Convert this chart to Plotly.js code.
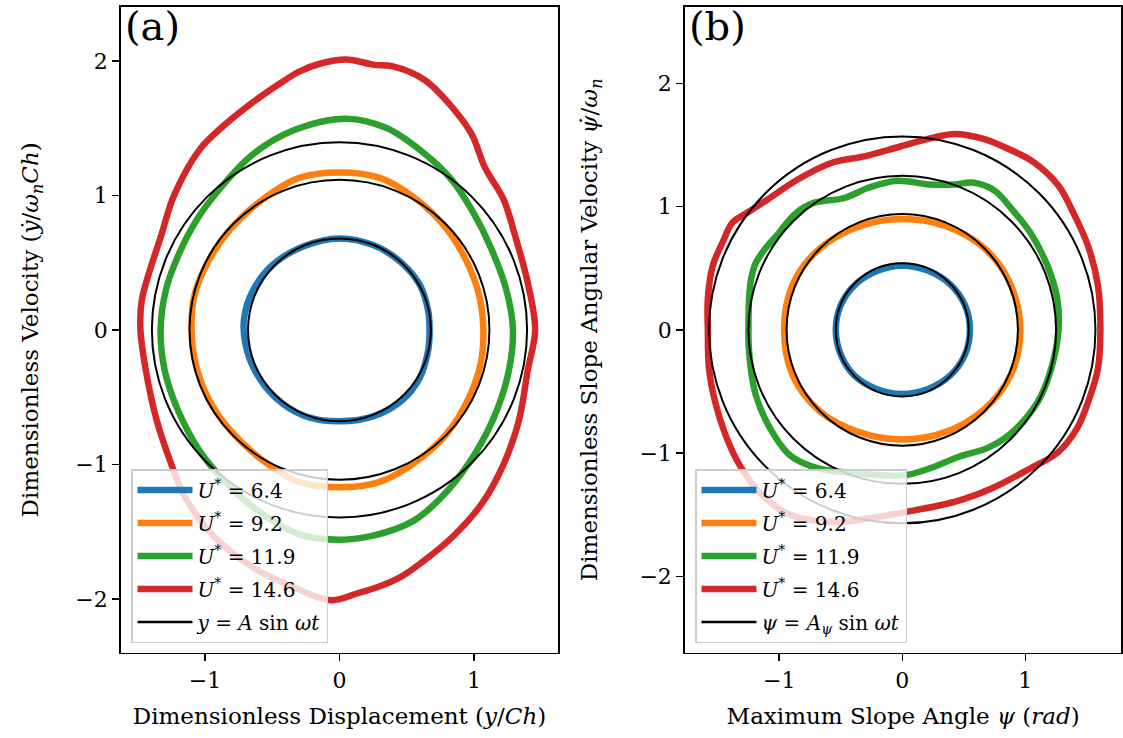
<!DOCTYPE html>
<html>
<head>
<meta charset="utf-8">
<script src="https://cdn.plot.ly/plotly-3.0.1.min.js"></script>
<style>
  html, body { margin: 0; padding: 0; background: #ffffff; }
  #chart { width: 1123px; height: 738px; }
</style>
</head>
<body>
<div id="chart"></div>
<script>
// Reduced velocities of the four runs
const uStar = ['6.4', '9.2', '11.9', '14.6'];
const colors = ['#1f77b4', '#ff7f0e', '#2ca02c', '#d62728'];

// (a) phase portrait: dimensionless displacement vs dimensionless velocity
const dispX_64 = [0, 0.25, 0.46, 0.60, 0.66, 0.67, 0.66, 0.60, 0.47, 0.26, 0, -0.26, -0.48, -0.63, -0.70, -0.71, -0.65, -0.50, -0.27, 0];
const velY_64  = [0.68, 0.63, 0.50, 0.33, 0.14, 0, -0.15, -0.35, -0.52, -0.64, -0.68, -0.64, -0.50, -0.30, -0.10, 0.08, 0.28, 0.48, 0.62, 0.68];

const dispX_92 = [0, 0.30, 0.56, 0.79, 0.95, 1.04, 1.07, 1.05, 0.96, 0.80, 0.57, 0.30, 0, -0.30, -0.57, -0.81, -0.98, -1.07, -1.10, -1.08, -0.98, -0.81, -0.57, -0.30, 0];
const velY_92  = [1.17, 1.13, 0.98, 0.76, 0.50, 0.25, 0, -0.25, -0.51, -0.77, -0.98, -1.13, -1.17, -1.13, -0.97, -0.75, -0.50, -0.25, 0, 0.25, 0.50, 0.75, 0.97, 1.13, 1.17];

const dispX_119 = [0.05, 0.35, 0.62, 0.83, 0.99, 1.13, 1.24, 1.29, 1.26, 1.17, 1.02, 0.80, 0.55, 0.25, 0, -0.30, -0.60, -0.83, -1.04, -1.20, -1.30, -1.33, -1.29, -1.20, -1.06, -0.88, -0.65, -0.35, 0.05];
const velY_119  = [1.57, 1.50, 1.32, 1.12, 0.88, 0.60, 0.30, 0, -0.30, -0.60, -0.90, -1.20, -1.42, -1.53, -1.56, -1.52, -1.35, -1.15, -0.90, -0.60, -0.30, 0, 0.30, 0.55, 0.82, 1.06, 1.30, 1.48, 1.57];

const dispX_146 = [0.05, 0.26, 0.39, 0.63, 0.79, 0.98, 1.08, 1.22, 1.30, 1.40, 1.455, 1.40, 1.335, 1.22, 1.06, 0.84, 0.61, 0.45, 0.29, 0.13, -0.06, -0.35, -0.62, -0.93, -1.15, -1.25, -1.36, -1.44, -1.48, -1.47, -1.32, -1.23, -1.04, -0.87, -0.62, -0.40, -0.30, -0.14, 0.05];
const velY_146  = [2.01, 1.97, 1.96, 1.86, 1.71, 1.46, 1.21, 0.97, 0.72, 0.35, 0, -0.30, -0.67, -1.00, -1.29, -1.54, -1.73, -1.84, -1.91, -1.96, -2.01, -1.91, -1.78, -1.54, -1.24, -1.00, -0.67, -0.30, 0, 0.22, 0.72, 1.00, 1.34, 1.51, 1.71, 1.86, 1.92, 1.98, 2.01];

// harmonic reference amplitudes y = A sin(wt)
const fitAmpA = [0.68, 1.115, 1.395];

// (b) phase portrait: maximum slope angle vs dimensionless angular velocity
const psiX_64 = [0, 0.21, 0.39, 0.51, 0.55, 0.51, 0.39, 0.21, 0, -0.21, -0.39, -0.50, -0.54, -0.50, -0.38, -0.20, 0];
const omgY_64 = [0.52, 0.48, 0.37, 0.20, 0, -0.20, -0.37, -0.48, -0.52, -0.48, -0.37, -0.20, 0, 0.20, 0.37, 0.48, 0.52];

const psiX_92 = [0, 0.36, 0.67, 0.88, 0.96, 0.88, 0.66, 0.35, 0, -0.35, -0.67, -0.89, -0.96, -0.89, -0.67, -0.35, 0];
const omgY_92 = [0.90, 0.84, 0.66, 0.37, 0, -0.37, -0.65, -0.83, -0.89, -0.83, -0.66, -0.37, 0, 0.37, 0.66, 0.84, 0.90];

const psiX_119 = [-1.25, -1.20, -1.00, -0.86, -0.72, -0.47, -0.27, -0.04, 0.22, 0.43, 0.57, 0.75, 0.89, 1.04, 1.18, 1.26, 1.27, 1.21, 1.10, 0.865, 0.69, 0.46, 0.22, 0.02, -0.30, -0.68, -0.91, -1.09, -1.19, -1.23, -1.25];
const omgY_119 = [0, 0.52, 0.79, 0.95, 1.03, 1.07, 1.155, 1.21, 1.18, 1.18, 1.195, 1.13, 0.98, 0.79, 0.52, 0.25, 0, -0.316, -0.586, -0.856, -0.96, -1.03, -1.125, -1.18, -1.17, -1.125, -1.02, -0.77, -0.53, -0.32, 0];

const psiX_146 = [-1.58, -1.58, -1.54, -1.46, -1.38, -1.26, -1.09, -0.85, -0.56, -0.30, -0.01, 0.25, 0.43, 0.66, 0.86, 1.07, 1.27, 1.39, 1.51, 1.59, 1.61, 1.59, 1.51, 1.42, 1.27, 1.04, 0.72, 0.43, 0.02, -0.21, -0.53, -0.91, -1.14, -1.32, -1.435, -1.52, -1.57, -1.58];
const omgY_146 = [0, 0.25, 0.52, 0.71, 0.87, 0.95, 1.06, 1.22, 1.36, 1.41, 1.49, 1.56, 1.59, 1.55, 1.47, 1.36, 1.17, 0.95, 0.68, 0.36, 0, -0.316, -0.586, -0.80, -0.99, -1.125, -1.29, -1.395, -1.48, -1.52, -1.56, -1.50, -1.34, -1.10, -0.856, -0.586, -0.316, 0];

// harmonic reference amplitudes psi = A_psi sin(wt)
const fitAmpPsi = [0.54, 0.94, 1.25, 1.57];

const FONT = 'DejaVu Serif, serif';
const leftX = [dispX_64, dispX_92, dispX_119, dispX_146];
const leftY = [velY_64, velY_92, velY_119, velY_146];
const rightX = [psiX_64, psiX_92, psiX_119, psiX_146];
const rightY = [omgY_64, omgY_92, omgY_119, omgY_146];

const traces = [];
function addPanel(xs, ys, xa, ya, legendId, fitLabel) {
  xs.forEach((xv, i) => {
    traces.push({
      type: 'scatter', mode: 'lines', x: xv, y: ys[i],
      xaxis: xa, yaxis: ya, legend: legendId,
      legendgroup: legendId + '_' + i,
      name: '<i>U</i><sup>*</sup> = ' + uStar[i],
      line: { color: colors[i], width: 6.5, shape: 'spline', smoothing: 1 },
      hoverinfo: 'skip'
    });
  });
  // legend entry for the harmonic circles (drawn as shapes below)
  traces.push({
    type: 'scatter', mode: 'lines', x: [null], y: [null],
    xaxis: xa, yaxis: ya, legend: legendId,
    legendgroup: legendId + '_fit',
    name: fitLabel, line: { color: '#000000', width: 2.5 }, hoverinfo: 'skip'
  });
}
addPanel(leftX, leftY, 'x', 'y', 'legend', '<i>y</i> = <i>A</i> sin <i>ωt</i>');
addPanel(rightX, rightY, 'x2', 'y2', 'legend2', '<i>ψ</i> = <i>A<sub>ψ</sub></i> sin <i>ωt</i>');

const shapes = [];
fitAmpA.forEach(a => shapes.push({
  type: 'circle', xref: 'x', yref: 'y', x0: -a, x1: a, y0: -a, y1: a,
  line: { color: '#000000', width: 2 }, layer: 'above'
}));
fitAmpPsi.forEach(a => shapes.push({
  type: 'circle', xref: 'x2', yref: 'y2', x0: -a, x1: a, y0: -a, y1: a,
  line: { color: '#000000', width: 2 }, layer: 'above'
}));

const axisCommon = {
  showgrid: false, zeroline: false, showline: true, mirror: true,
  linecolor: '#000000', linewidth: 1.8,
  ticks: 'outside', ticklen: 7, tickwidth: 1.5, tickcolor: '#000000',
  tickfont: { family: FONT, size: 22, color: '#000000' },
  dtick: 1, automargin: false
};
const legendCommon = {
  bgcolor: 'rgba(255,255,255,0.8)', bordercolor: '#cccccc', borderwidth: 1.5,
  font: { family: FONT, size: 20, color: '#000000' },
  xanchor: 'left', yanchor: 'bottom', tracegroupgap: 4, itemwidth: 55
};

const layout = {
  width: 1123, height: 738,
  margin: { l: 0, r: 0, t: 0, b: 0 },
  paper_bgcolor: '#ffffff', plot_bgcolor: '#ffffff',
  font: { family: FONT, color: '#000000' },
  showlegend: true,
  xaxis: Object.assign({}, axisCommon, {
    domain: [0.1077, 0.4969], range: [-1.625, 1.625], anchor: 'y',
    title: { text: 'Dimensionless Displacement (<i>y</i>/<i>Ch</i>)', font: { family: FONT, size: 23 }, standoff: 16 }
  }),
  yaxis: Object.assign({}, axisCommon, {
    domain: [0.1156, 0.9905], range: [-2.4, 2.4], anchor: 'x',
    title: { text: 'Dimensionless Velocity (<i>ẏ</i>/<i>ω<sub>n</sub>Ch</i>)', font: { family: FONT, size: 23 }, standoff: 30 }
  }),
  xaxis2: Object.assign({}, axisCommon, {
    domain: [0.6100, 0.9985], range: [-1.765, 1.78], anchor: 'y2',
    title: { text: 'Maximum Slope Angle <i>ψ</i> (<i>rad</i>)', font: { family: FONT, size: 23 }, standoff: 16 }
  }),
  yaxis2: Object.assign({}, axisCommon, {
    domain: [0.1156, 0.9905], range: [-2.62, 2.62], anchor: 'x2',
    title: { text: 'Dimensionless Slope Angular Velocity <i>ψ̇</i>/<i>ω<sub>n</sub></i>', font: { family: FONT, size: 23 }, standoff: 35 }
  }),
  legend: Object.assign({}, legendCommon, { x: 131 / 1123, y: 1 - 643 / 738 }),
  legend2: Object.assign({}, legendCommon, { x: 695 / 1123, y: 1 - 643 / 738 }),
  shapes: shapes,
  annotations: [
    { text: '(a)', xref: 'x domain', yref: 'y domain', x: 0.005, y: 1.01, xanchor: 'left', yanchor: 'top',
      showarrow: false, font: { family: FONT, size: 40, color: '#000000' } },
    { text: '(b)', xref: 'x2 domain', yref: 'y2 domain', x: 0.005, y: 1.01, xanchor: 'left', yanchor: 'top',
      showarrow: false, font: { family: FONT, size: 40, color: '#000000' } }
  ]
};

Plotly.newPlot('chart', traces, layout, { staticPlot: true, displayModeBar: false });
</script>
</body>
</html>
